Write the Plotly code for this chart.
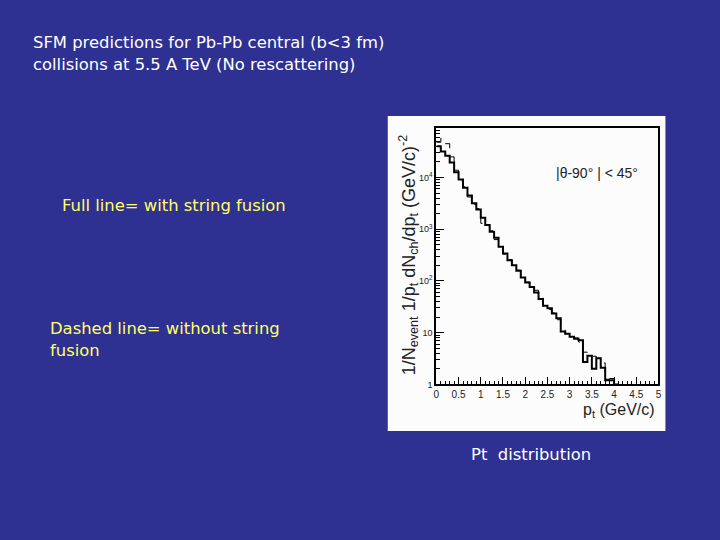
import plotly.graph_objects as go

# ---- data ----
pt_edges = [round(0.1 * i, 1) for i in range(42)]  # 0.0 .. 4.1
with_fusion = [40000, 31600, 26300, 19500, 12600, 9100, 6300, 4470, 3160, 2400,
               1660, 1200, 890, 680, 457, 339, 251, 200, 158, 117,
               93, 76, 60, 45, 33, 29.5, 23.4, 19, 10.5, 9.5,
               8.3, 7.6, 7.1, 2.7, 3.6, 2.0, 3.2, 2.1, 1.2, 1.2,
               1.0]
without_fusion = [48000, 57000, 45000, 25000, 13800, 8500, 6600, 4200, 3000, 2500,
                  1300, 1150, 930, 630, 480, 330, 260, 190, 162, 112,
                  95, 72, 66, 52, 33, 28, 24, 17.8, 11.2, 9.5,
                  8.9, 7.9, 6.6, 4.2, 4.0, 3.5, 3.2, 2.6, 1.26, 1.3,
                  1.1]
x_tick_vals = [0, 0.5, 1, 1.5, 2, 2.5, 3, 3.5, 4, 4.5, 5]
x_tick_text = ["0", "0.5", "1", "1.5", "2", "2.5", "3", "3.5", "4", "4.5", "5"]
y_tick_vals = [1, 10, 100, 1000, 10000]
y_tick_text = ["1", "10", "10<sup>2</sup>", "10<sup>3</sup>", "10<sup>4</sup>"]

W, H = 720, 540
def px(x):
    return x / W
def py(y):
    return 1 - y / H

fig = go.Figure()
fig.add_trace(go.Scatter(x=pt_edges, y=without_fusion + [without_fusion[-1]],
                         mode="lines", line=dict(shape="hv", color="black", width=1, dash="dash"),
                         showlegend=False))
fig.add_trace(go.Scatter(x=pt_edges, y=with_fusion + [with_fusion[-1]],
                         mode="lines", line=dict(shape="hv", color="black", width=2),
                         showlegend=False))

minor_y = [m * 10 ** d for d in range(5) for m in range(2, 10)]

fig.update_layout(
    width=W, height=H,
    margin=dict(l=0, r=0, t=0, b=0),
    paper_bgcolor="#2f3192",
    plot_bgcolor="white",
    xaxis=dict(domain=[px(437), px(661)], range=[0, 5], tickmode="array",
               tickvals=x_tick_vals, ticktext=x_tick_text, ticks="inside", ticklen=8,
               tickcolor="black", showgrid=False, zeroline=False, showline=True,
               linecolor="black", linewidth=1.5, mirror=True,
               tickfont=dict(family="Liberation Sans", size=10, color="#222"),
               minor=dict(dtick=0.1, ticks="inside", ticklen=4, tickcolor="black", showgrid=False)),
    yaxis=dict(domain=[py(388), py(129)], type="log", range=[0, 4.96], tickmode="array",
               tickvals=y_tick_vals, ticktext=y_tick_text, ticks="inside", ticklen=8,
               tickcolor="black", showgrid=False, zeroline=False, showline=True,
               linecolor="black", linewidth=2, mirror=True,
               tickfont=dict(family="Liberation Sans", size=9, color="#222"),
               minor=dict(tickvals=minor_y, ticks="inside", ticklen=4, tickcolor="black", showgrid=False)),
    shapes=[dict(type="rect", xref="paper", yref="paper", x0=px(388), x1=px(668),
                 y0=py(435), y1=py(117), fillcolor="#fcfcfc", line=dict(width=0), layer="below")],
)

slide_font = "DejaVu Sans"
fs = 16.4
ann = []
ann.append(dict(x=px(28), y=py(43), text="SFM predictions for Pb-Pb central (b<3 fm)",
                font=dict(family=slide_font, size=fs, color="white"), xanchor="left", yanchor="middle"))
ann.append(dict(x=px(28), y=py(65), text="collisions at 5.5 A TeV (No rescattering)",
                font=dict(family=slide_font, size=fs, color="white"), xanchor="left", yanchor="middle"))
ann.append(dict(x=px(57), y=py(207), text="Full line= with string fusion",
                font=dict(family=slide_font, size=fs, color="#ffff66"), xanchor="left", yanchor="middle"))
ann.append(dict(x=px(45), y=py(332), text="Dashed line= without string",
                font=dict(family=slide_font, size=fs, color="#ffff66"), xanchor="left", yanchor="middle"))
ann.append(dict(x=px(45), y=py(354), text="fusion",
                font=dict(family=slide_font, size=fs, color="#ffff66"), xanchor="left", yanchor="middle"))
ann.append(dict(x=px(470), y=py(459), text="Pt  distribution",
                font=dict(family=slide_font, size=fs, color="white"), xanchor="left", yanchor="middle"))
ann.append(dict(x=px(409), y=py(258),
                text="1/N<sub>event</sub> 1/p<sub>t</sub> dN<sub>ch</sub>/dp<sub>t</sub> (GeV/c)<sup>-2</sup>",
                textangle=-90, font=dict(family="Liberation Sans", size=18, color="#222"),
                xanchor="center", yanchor="middle"))
ann.append(dict(x=px(659), y=py(414), text="p<sub>t</sub> (GeV/c)",
                font=dict(family="Liberation Sans", size=16, color="#222"), xanchor="right", yanchor="middle"))
ann.append(dict(x=px(556), y=py(175), text="|θ-90° | < 45°",
                font=dict(family="Liberation Sans", size=14, color="#222"), xanchor="left", yanchor="middle"))
for a in ann:
    a.update(xref="paper", yref="paper", showarrow=False)
fig.update_layout(annotations=ann)

fig.write_html("out.html", config={"displayModeBar": False},
               post_script="document.body.style.margin='0';document.body.style.padding='0';")
